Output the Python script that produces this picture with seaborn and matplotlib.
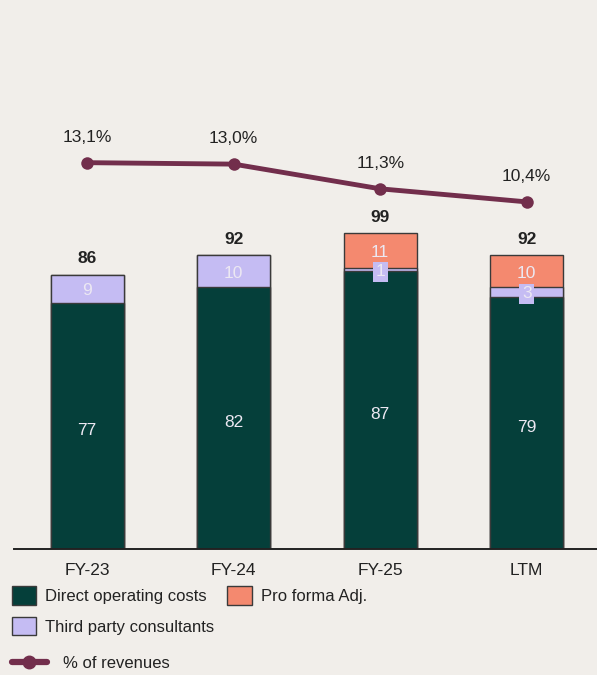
import numpy as np
import matplotlib
matplotlib.use('Agg')
import matplotlib.pyplot as plt
import seaborn as sns
from matplotlib.patches import Patch
from matplotlib.lines import Line2D

# dados
periods = ['FY-23', 'FY-24', 'FY-25', 'LTM']
direct_costs = [77, 82, 87, 79]
third_party = [9, 10, 1, 3]
pro_forma = [0, 0, 11, 10]
totals = [86, 92, 99, 92]
pct_revenue = [13.1, 13.0, 11.3, 10.4]
pct_labels = ['13,1%', '13,0%', '11,3%', '10,4%']

bg = '#f1eeea'
c_direct = '#053f3a'
c_third = '#c5bcf3'
c_pro = '#f4896f'
c_line = '#722e4c'
c_text = '#222222'
c_light = '#ece8f2'

sns.set_theme(style='white')
plt.rcParams['font.family'] = ['Liberation Sans', 'DejaVu Sans']

fig = plt.figure(figsize=(5.97, 6.75), dpi=100, facecolor=bg)
ax = fig.add_axes([14 / 597, 126 / 675, 583 / 597, 549 / 675])
ax.set_facecolor(bg)

# barras empilhadas (camadas acumuladas, da maior para a menor)
cum_third = [d + t for d, t in zip(direct_costs, third_party)]
cum_total = [d + t + p for d, t, p in zip(direct_costs, third_party, pro_forma)]
sns.barplot(x=periods, y=cum_total, color=c_pro, saturation=1, width=0.5,
            edgecolor='#3a3a3a', linewidth=1, ax=ax)
sns.barplot(x=periods, y=cum_third, color=c_third, saturation=1, width=0.5,
            edgecolor='#3a3a3a', linewidth=1, ax=ax)
sns.barplot(x=periods, y=direct_costs, color=c_direct, saturation=1, width=0.5,
            edgecolor='#3a3a3a', linewidth=1, ax=ax)

ax.set_xlim(-0.5, 3.48)
ax.set_ylim(0, 172)

fs = 12.5
for i in range(len(periods)):
    ax.text(i, direct_costs[i] / 2 - 1.5, str(direct_costs[i]), ha='center', va='center',
            color=c_light, fontsize=fs)
    mid = direct_costs[i] + third_party[i] / 2 - 0.6
    if third_party[i] >= 5:
        ax.text(i, mid, str(third_party[i]), ha='center', va='center', color=c_light, fontsize=fs)
    else:
        ax.text(i, mid, str(third_party[i]), ha='center', va='center', color=c_light, fontsize=fs,
                bbox=dict(boxstyle='square,pad=0.15', fc=c_third, ec='none'))
    if pro_forma[i] > 0:
        ax.text(i, cum_third[i] + pro_forma[i] / 2 - 0.6, str(pro_forma[i]), ha='center',
                va='center', color=c_light, fontsize=fs)
    ax.text(i, totals[i] + 5, str(totals[i]), ha='center', va='center', color=c_text,
            fontsize=fs, fontweight='bold')

for s in ['top', 'right', 'left']:
    ax.spines[s].set_visible(False)
ax.spines['bottom'].set_color('#222222')
ax.spines['bottom'].set_linewidth(1.4)
ax.set_yticks([])
ax.set_xlabel('')
ax.set_ylabel('')
ax.tick_params(axis='x', length=0, pad=10, labelsize=fs, labelcolor=c_text)

# linha de % das receitas
ax2 = ax.twinx()
sns.lineplot(x=[0, 1, 2, 3], y=pct_revenue, color=c_line, linewidth=3.5, marker='o',
             markersize=9, markeredgewidth=0, ax=ax2)
ax2.set_ylim(-13.5, 24.3)
ax2.set_xlim(-0.5, 3.48)
ax2.axis('off')
for i, lab in enumerate(pct_labels):
    ax2.text(i, pct_revenue[i] + 1.75, lab, ha='center', va='center', color=c_text, fontsize=fs)

# legenda
lfs = 12
handles = [Patch(facecolor=c_direct, edgecolor='#3a3a3a', label='Direct operating costs'),
           Patch(facecolor=c_third, edgecolor='#3a3a3a', label='Third party consultants'),
           Patch(facecolor=c_pro, edgecolor='#3a3a3a', label='Pro forma Adj.')]
fig.legend(handles=handles, loc='upper left', bbox_to_anchor=(-0.003, 0.151), ncol=2,
           frameon=False, fontsize=lfs, handlelength=1.45, handleheight=1.3,
           handletextpad=0.55, columnspacing=0.8, labelspacing=0.75, labelcolor=c_text,
           borderpad=0.3)
line_handle = [Line2D([0], [0], color=c_line, linewidth=4.5, marker='o', markersize=9,
                      label='% of revenues')]
fig.legend(handles=line_handle, loc='center left', bbox_to_anchor=(-0.003, 1 - 663 / 675),
           frameon=False, fontsize=lfs, handlelength=2.1, handletextpad=1.0,
           labelcolor=c_text, borderpad=0.3)

fig.savefig('out.png', dpi=100, facecolor=bg)
